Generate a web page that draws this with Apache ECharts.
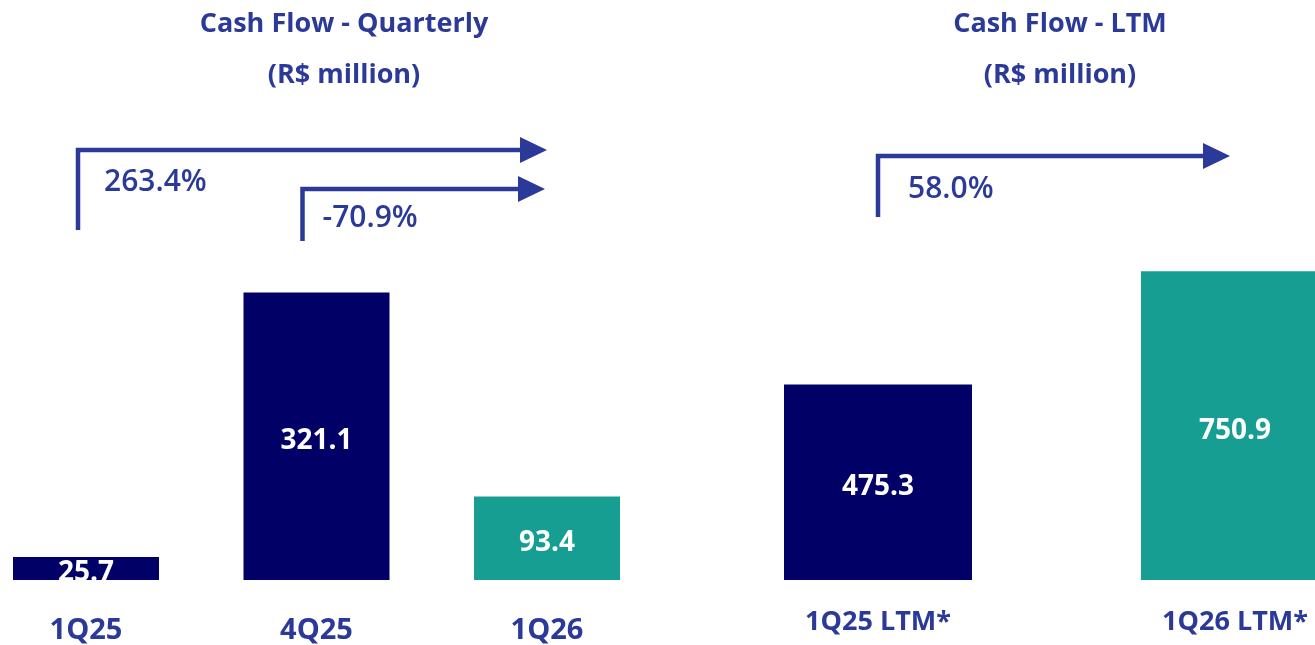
<!DOCTYPE html>
<html>
<head>
<meta charset="utf-8">
<script src="https://cdn.jsdelivr.net/npm/echarts@6/dist/echarts.min.js"></script>
<style>html,body{margin:0;padding:0;background:#fff;}#c{width:1315px;height:645px;}</style>
</head>
<body>
<div id="c"></div>
<script>
const qCategories = ['1Q25', '4Q25', '1Q26'];
const qValues = [25.7, 321.1, 93.4];
const ltmCategories = ['1Q25 LTM*', '1Q26 LTM*'];
const ltmValues = [475.3, 750.9];
const qGrowth = ['263.4%', '-70.9%'];
const ltmGrowth = ['58.0%'];
const titles = ['Cash Flow - Quarterly', 'Cash Flow - LTM'];
const unitText = '(R$ million)';

const NAVY = '#000066';
const TEAL = '#179E92';
const BLUE = '#2B3A98';
const FONT = '"Open Sans", "Noto Sans", sans-serif';

function colored(vals) {
  return vals.map((v, i) => ({ value: v, itemStyle: { color: i === vals.length - 1 ? TEAL : NAVY } }));
}

const chart = echarts.init(document.getElementById('c'), null, { renderer: 'canvas' });
const valueLabel = { show: true, position: 'inside', offset: [0, 5], color: '#fff', fontSize: 28, fontWeight: 'bold', fontFamily: FONT };
const titleStyle = { color: BLUE, fontSize: 27, fontWeight: 'bold', fontFamily: FONT, lineHeight: 51 };

chart.setOption({
  animation: false,
  title: [
    { text: titles[0] + '\n' + unitText, left: 339, top: -6, textAlign: 'center', textStyle: titleStyle },
    { text: titles[1] + '\n' + unitText, left: 1055, top: -6, textAlign: 'center', textStyle: titleStyle }
  ],
  grid: [
    { left: 86, width: 461, bottom: 64, top: 222 },
    { left: 878, width: 357, bottom: 65, top: 210 }
  ],
  xAxis: [
    { type: 'category', gridIndex: 0, data: qCategories, boundaryGap: false, axisLine: { show: false }, axisTick: { show: false },
      splitLine: { show: false }, axisLabel: { margin: 36, color: BLUE, fontSize: 29, fontWeight: 'bold', fontFamily: FONT } },
    { type: 'category', gridIndex: 1, data: ltmCategories, boundaryGap: false, axisLine: { show: false }, axisTick: { show: false },
      splitLine: { show: false }, axisLabel: { margin: 29, color: BLUE, fontSize: 27, fontWeight: 'bold', fontFamily: FONT } }
  ],
  yAxis: [
    { type: 'value', gridIndex: 0, min: 0, max: 400, show: false, splitLine: { show: false } },
    { type: 'value', gridIndex: 1, min: 0, max: 900, show: false, splitLine: { show: false } }
  ],
  series: [
    { type: 'bar', xAxisIndex: 0, yAxisIndex: 0, barWidth: 146, data: colored(qValues), label: valueLabel },
    { type: 'bar', xAxisIndex: 1, yAxisIndex: 1, barWidth: 188, data: colored(ltmValues), label: valueLabel }
  ]
});

// growth arrows anchored to category centers
const px = (axis, cat) => chart.convertToPixel({ xAxisIndex: axis }, cat);
const lineStyle = { stroke: BLUE, lineWidth: 4.5, fill: null };
const textEl = (t, x, y) => ({ type: 'text', x: x, y: y,
  style: { text: t, fill: BLUE, fontSize: 30, fontWeight: 600, fontFamily: FONT, verticalAlign: 'middle' } });

function arrow(xStart, yBottom, yLine, xTip) {
  return [
    { type: 'polyline', shape: { points: [[xStart, yBottom], [xStart, yLine], [xTip - 24, yLine]] }, style: lineStyle },
    { type: 'polygon', shape: { points: [[xTip - 27, yLine - 13], [xTip, yLine], [xTip - 27, yLine + 13]] }, style: { fill: BLUE } }
  ];
}

const c0 = px(0, qCategories[0]), c1 = px(0, qCategories[1]), c2 = px(0, qCategories[2]);
const r0 = px(1, ltmCategories[0]), r1 = px(1, ltmCategories[1]);

const elements = []
  .concat(arrow(c0 - 8, 230, 150, c2))
  .concat(arrow(c1 - 14, 241, 189, c2 - 2))
  .concat(arrow(r0, 217, 156, r1 - 5));
elements.push(textEl(qGrowth[0], c0 + 18, 182));
elements.push(textEl(qGrowth[1], c1 + 6, 218));
elements.push(textEl(ltmGrowth[0], r0 + 30, 189));

chart.setOption({ graphic: { elements: elements } });
</script>
</body>
</html>
